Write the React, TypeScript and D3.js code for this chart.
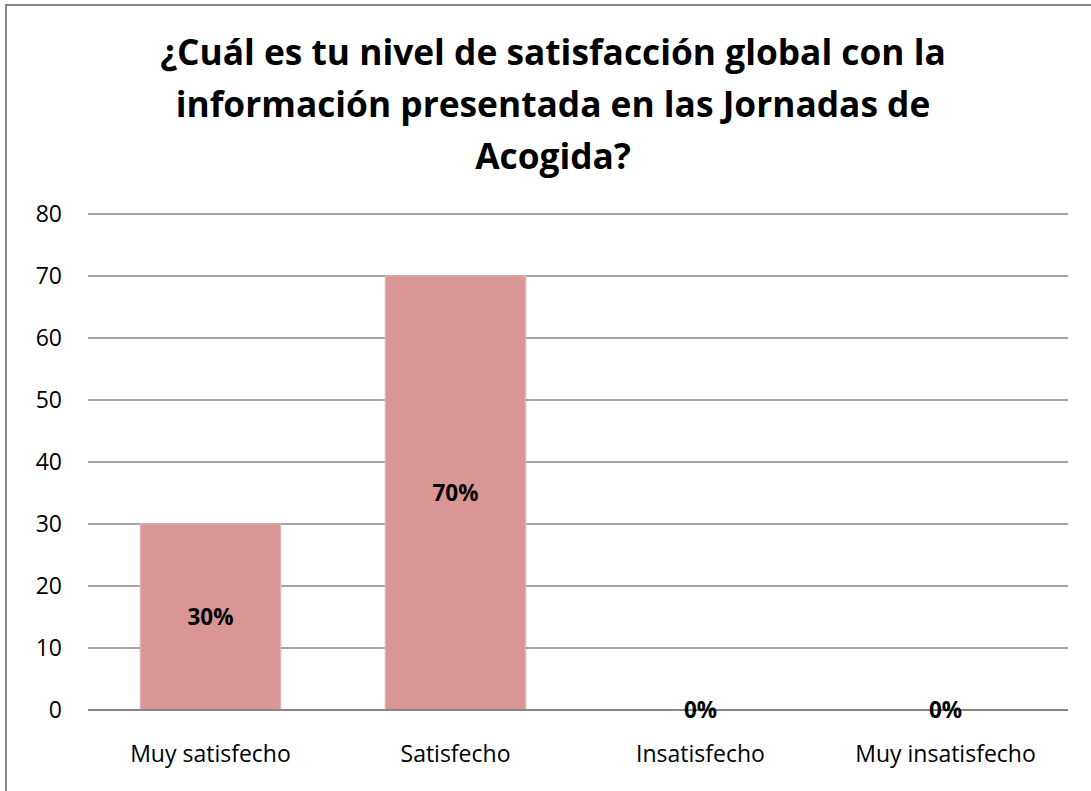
import React from "react";
import * as d3 from "d3";

const titleLines = [
  "¿Cuál es tu nivel de satisfacción global con la",
  "información presentada en las Jornadas de",
  "Acogida?",
];
const categories = ["Muy satisfecho", "Satisfecho", "Insatisfecho", "Muy insatisfecho"];
const values = [30, 70, 0, 0];
const valueLabels = ["30%", "70%", "0%", "0%"];
const yTicks = [0, 10, 20, 30, 40, 50, 60, 70, 80];

const W = 1091;
const H = 791;
const FONT = "'Open Sans', Lato, sans-serif";

export default function App() {
  const x = d3.scaleBand<string>().domain(categories).range([88, 1068]).paddingInner(0.426).paddingOuter(0.213);
  const y = d3.scaleLinear().domain([0, 80]).range([710, 214]);
  return (
    <svg width={W} height={H} style={{ position: "absolute", left: 0, top: 0, background: "#fff" }}>
      <rect x={6} y={5} width={W + 20} height={H + 20} fill="#fff" stroke="#868686" strokeWidth={2} />
      {titleLines.map((t, i) => (
        <text key={i} x={553} y={65 + i * 52} textAnchor="middle" fontFamily={FONT} fontWeight="bold" fontSize={35.3} fill="#000">
          {t}
        </text>
      ))}
      {yTicks.map((t) => (
        <g key={t}>
          <line x1={88} x2={1068} y1={y(t)} y2={y(t)} stroke="#868686" strokeWidth={t === 0 ? 2 : 1.5} />
          <text x={62} y={y(t)} dy="0.36em" textAnchor="end" fontFamily={FONT} fontSize={23} fill="#000">
            {t}
          </text>
        </g>
      ))}
      {categories.map((c, i) => (
        <rect key={c} x={x(c)} y={y(values[i])} width={x.bandwidth()} height={y(0) - y(values[i])} fill="#d99694" stroke="#e6b9b8" strokeWidth={1} />
      ))}
      <line x1={88} x2={1068} y1={y(0)} y2={y(0)} stroke="#868686" strokeWidth={2} />
      {categories.map((c, i) => (
        <text key={c} x={(x(c) as number) + x.bandwidth() / 2} y={y(values[i] / 2)} dy="0.36em" textAnchor="middle" fontFamily={FONT} fontWeight="bold" fontSize={22.5} fill="#000">
          {valueLabels[i]}
        </text>
      ))}
      {categories.map((c) => (
        <text key={c} x={(x(c) as number) + x.bandwidth() / 2} y={762} textAnchor="middle" fontFamily={FONT} fontSize={23} fill="#000">
          {c}
        </text>
      ))}
    </svg>
  );
}
